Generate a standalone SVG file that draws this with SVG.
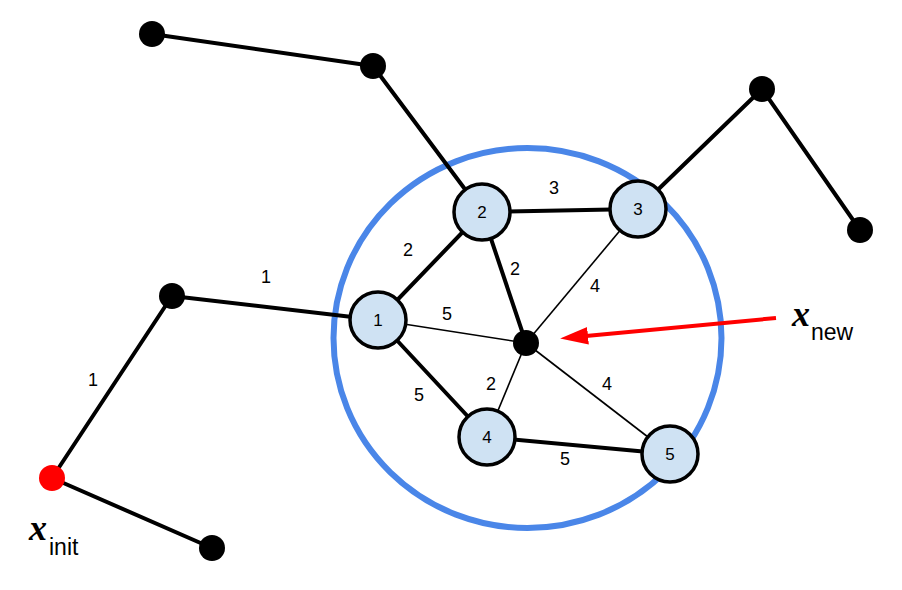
<svg xmlns="http://www.w3.org/2000/svg" width="902" height="590" viewBox="0 0 902 590">
<defs>
<style>
.thick{stroke:#000;stroke-width:4;fill:none;stroke-linecap:round}
.thin{stroke:#000;stroke-width:1.6;fill:none}
.dot{fill:#000}
.node{fill:#cfe2f3;stroke:#000;stroke-width:3.5}
.nl{font-family:"Liberation Sans",Arial,sans-serif;font-size:17px;fill:#000;text-anchor:middle}
.el{font-family:"Liberation Sans",Arial,sans-serif;font-size:18px;fill:#000;text-anchor:middle}
.xv{font-family:"Liberation Serif","Times New Roman",serif;font-style:italic;font-weight:bold;font-size:36px;fill:#000}
.sub{font-family:"Liberation Sans",Arial,sans-serif;font-size:23px;fill:#000}
</style>
<marker id="ah" markerWidth="7" markerHeight="4.4" refX="0.5" refY="2.2" orient="auto" markerUnits="strokeWidth">
<path d="M0,0 L7,2.2 L0,4.4 Z" fill="#ff0000"/>
</marker>
</defs>
<rect width="902" height="590" fill="#fff"/>
<ellipse id="region" cx="527.5" cy="338" rx="194" ry="190" fill="none" stroke="#4a86e8" stroke-width="6"/>
<g id="connectors">
<line class="thick" x1="152" y1="34" x2="373" y2="66"/>
<line class="thick" x1="373" y1="66" x2="482" y2="212"/>
<line class="thick" x1="638" y1="209" x2="762" y2="89"/>
<line class="thick" x1="762" y1="89" x2="860" y2="230"/>
<line class="thick" x1="172" y1="296" x2="378" y2="320"/>
<line class="thick" x1="172" y1="296" x2="52" y2="478"/>
<line class="thick" x1="52" y1="478" x2="212" y2="548"/>
<line class="thick" x1="378" y1="320" x2="482" y2="212"/>
<line class="thick" x1="482" y1="212" x2="638" y2="209"/>
<line class="thick" x1="482" y1="212" x2="526" y2="343"/>
<line class="thin" x1="638" y1="209" x2="526" y2="343"/>
<line class="thin" x1="378" y1="320" x2="526" y2="343"/>
<line class="thick" x1="378" y1="320" x2="487" y2="437"/>
<line class="thin" x1="526" y1="343" x2="487" y2="437"/>
<line class="thin" x1="526" y1="343" x2="670" y2="454"/>
<line class="thick" x1="487" y1="437" x2="670" y2="454"/>
<line x1="776" y1="318" x2="586" y2="336" stroke="#ff0000" stroke-width="4" marker-end="url(#ah)"/>
<text class="el" x="266" y="283">1</text>
<text class="el" x="93" y="386">1</text>
<text class="el" x="408" y="256">2</text>
<text class="el" x="554" y="194">3</text>
<text class="el" x="515" y="275">2</text>
<text class="el" x="595" y="292">4</text>
<text class="el" x="447" y="320">5</text>
<text class="el" x="419" y="401">5</text>
<text class="el" x="491" y="390">2</text>
<text class="el" x="607" y="390">4</text>
<text class="el" x="565" y="465">5</text>
</g>
<g id="p1"><circle class="dot" cx="152" cy="34" r="13"/></g>
<g id="p2"><circle class="dot" cx="373" cy="66" r="13"/></g>
<g id="p3"><circle class="dot" cx="762" cy="89" r="13"/></g>
<g id="p4"><circle class="dot" cx="860" cy="230" r="13"/></g>
<g id="p5"><circle class="dot" cx="172" cy="296" r="13"/></g>
<g id="p6"><circle class="dot" cx="212" cy="548" r="13"/></g>
<g id="xinit"><circle cx="52" cy="478" r="13" fill="#ff0000"/>
<text class="xv" x="29" y="540">x</text><text class="sub" x="49" y="555">init</text></g>
<g id="xnew"><circle class="dot" cx="526" cy="343" r="13"/></g>
<g id="xnew-label"><text class="xv" x="792" y="326">x</text><text class="sub" x="811" y="340">new</text></g>
<g id="n1"><circle class="node" cx="378" cy="320" r="28"/><text class="nl" x="378" y="326">1</text></g>
<g id="n2"><circle class="node" cx="482" cy="212" r="28"/><text class="nl" x="482" y="218">2</text></g>
<g id="n3"><circle class="node" cx="638" cy="209" r="28"/><text class="nl" x="638" y="215">3</text></g>
<g id="n4"><circle class="node" cx="487" cy="437" r="28"/><text class="nl" x="487" y="443">4</text></g>
<g id="n5"><circle class="node" cx="670" cy="454" r="28"/><text class="nl" x="670" y="460">5</text></g>
</svg>
